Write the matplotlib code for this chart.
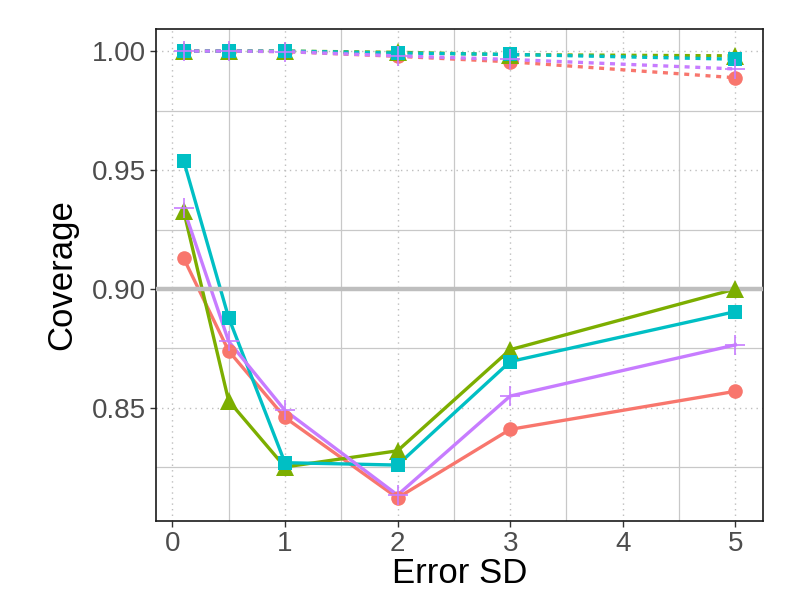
import matplotlib.pyplot as plt
from matplotlib.ticker import MultipleLocator

plt.rcParams["font.family"] = ["Liberation Sans", "DejaVu Sans"]

error_sd = [0.1, 0.5, 1, 2, 3, 5]

# cobertura por método (linha sólida) e versão tracejada
solid_red = [0.913, 0.874, 0.846, 0.8122, 0.841, 0.857]
solid_green = [0.933, 0.853, 0.8252, 0.832, 0.8745, 0.900]
solid_teal = [0.954, 0.888, 0.827, 0.826, 0.8695, 0.8905]
solid_purple = [0.934, 0.878, 0.849, 0.8134, 0.855, 0.8765]

dashed_red = [1.000, 1.000, 0.9998, 0.9978, 0.9955, 0.9888]
dashed_green = [1.000, 1.000, 1.000, 0.9995, 0.9985, 0.998]
dashed_teal = [1.000, 1.000, 1.000, 0.9992, 0.9986, 0.9966]
dashed_purple = [1.000, 1.000, 0.9998, 0.9980, 0.9965, 0.9925]

target = 0.90

RED = "#F8766D"
GREEN = "#7CAE00"
TEAL = "#00BFC4"
PURPLE = "#C77CFF"

styles = [
    (RED, "o", 10.5, solid_red, dashed_red),
    (GREEN, "^", 13, solid_green, dashed_green),
    (TEAL, "s", 10.5, solid_teal, dashed_teal),
    (PURPLE, "+", 15, solid_purple, dashed_purple),
]

fig = plt.figure(figsize=(7.89, 5.89), dpi=100)
ax = fig.add_axes([0.1977, 0.1155, 0.7693, 0.8353])

ax.set_xlim(-0.145, 5.245)
ax.set_ylim(0.8025, 1.0093)

ax.xaxis.set_major_locator(MultipleLocator(1))
ax.xaxis.set_minor_locator(MultipleLocator(0.5))
ax.yaxis.set_major_locator(MultipleLocator(0.05))
ax.yaxis.set_minor_locator(MultipleLocator(0.025))

ax.grid(which="major", color="#BEBEBE", linestyle=(0, (1, 3)), linewidth=1.0)
ax.grid(which="minor", color="#C8C8C8", linestyle="-", linewidth=0.9)
ax.set_axisbelow(True)

for color, marker, ms, solid, dashed in styles:
    ax.plot(error_sd, solid, color=color, linewidth=2.4, zorder=2)
    ax.plot(error_sd, dashed, color=color, linewidth=2.4,
            linestyle=(0, (1.5, 1.7)), zorder=2)

ax.axhline(target, color="#BEBEBE", linewidth=3.2, zorder=3)

for color, marker, ms, solid, dashed in styles:
    mew = 1.2 if marker == "+" else 0
    for series in (solid, dashed):
        ax.plot(error_sd, series, linestyle="none", marker=marker,
                markersize=ms, color=color, markeredgewidth=mew, zorder=4)

ax.yaxis.set_major_formatter(plt.FuncFormatter(lambda v, _: f"{v:.2f}"))
ax.tick_params(which="major", length=4, width=1, color="#333333",
               labelsize=20, labelcolor="#4D4D4D", pad=3)
ax.tick_params(which="minor", length=0)

for spine in ax.spines.values():
    spine.set_color("#1A1A1A")
    spine.set_linewidth(1.2)

ax.set_xlabel("Error SD", fontsize=25, color="black", labelpad=0)
ax.set_ylabel("Coverage", fontsize=25, color="black", labelpad=10)

fig.savefig("out.png", dpi=100)
